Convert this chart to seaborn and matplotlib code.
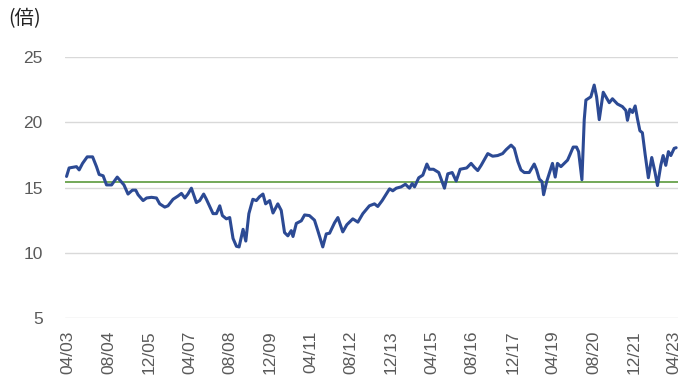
import matplotlib
matplotlib.use("Agg")
import matplotlib.pyplot as plt
import matplotlib.dates as mdates
import numpy as np
import pandas as pd
import seaborn as sns

dates = [
    "2003-03-12", "2003-04-12", "2003-07-10", "2003-08-11", "2003-09-21", "2003-11-16",
    "2004-01-20", "2004-03-07", "2004-04-08", "2004-05-26", "2004-07-06", "2004-09-05",
    "2004-11-12", "2004-12-22", "2005-02-01", "2005-03-22", "2005-05-14", "2005-06-23",
    "2005-07-21", "2005-09-20", "2005-11-01", "2005-12-30", "2006-02-28", "2006-04-08",
    "2006-06-08", "2006-07-17", "2006-09-16", "2006-11-15", "2006-12-26", "2007-02-05",
    "2007-03-14", "2007-04-25", "2007-06-24", "2007-08-03", "2007-09-20", "2007-10-23",
    "2007-12-02", "2008-01-11", "2008-02-21", "2008-04-01", "2008-05-03", "2008-06-20",
    "2008-07-30", "2008-09-08", "2008-10-19", "2008-11-20", "2009-01-07", "2009-02-09",
    "2009-03-18", "2009-05-05", "2009-06-16", "2009-07-25", "2009-09-04", "2009-10-06",
    "2009-11-24", "2010-01-03", "2010-03-02", "2010-04-12", "2010-05-22", "2010-07-01",
    "2010-08-11", "2010-09-01", "2010-10-11", "2010-12-10", "2011-01-19", "2011-03-18",
    "2011-05-18", "2011-06-27", "2011-08-26", "2011-10-07", "2011-11-16", "2012-01-15",
    "2012-02-24", "2012-04-23", "2012-06-11", "2012-08-22", "2012-10-22", "2012-12-21",
    "2013-03-10", "2013-05-10", "2013-06-19", "2013-08-11", "2013-09-29", "2013-11-08",
    "2013-12-17", "2014-01-28", "2014-03-27", "2014-05-18", "2014-07-06", "2014-08-08",
    "2014-09-05", "2014-10-26", "2014-12-14", "2015-02-01", "2015-03-03", "2015-04-21",
    "2015-06-24", "2015-09-01", "2015-10-11", "2015-12-03", "2016-01-20", "2016-03-08",
    "2016-05-26", "2016-07-18", "2016-08-27", "2016-10-06", "2016-11-16", "2017-02-04",
    "2017-04-04", "2017-06-03", "2017-08-02", "2017-09-13", "2017-11-12", "2017-12-21",
    "2018-02-01", "2018-03-11", "2018-04-20", "2018-06-19", "2018-08-18", "2018-09-16",
    "2018-10-18", "2018-11-20", "2018-12-09", "2019-01-15", "2019-02-17", "2019-03-26",
    "2019-04-28", "2019-05-25", "2019-07-06", "2019-08-15", "2019-09-24", "2019-10-22",
    "2019-12-01", "2020-01-10", "2020-02-04", "2020-03-15", "2020-04-12", "2020-05-02",
    "2020-07-01", "2020-08-10", "2020-09-08", "2020-10-10", "2020-11-27", "2020-12-29",
    "2021-02-08", "2021-03-18", "2021-05-17", "2021-07-16", "2021-08-27", "2021-09-15",
    "2021-10-14", "2021-11-15", "2021-12-17", "2022-01-14", "2022-02-12", "2022-03-14",
    "2022-04-16", "2022-05-25", "2022-07-05", "2022-08-14", "2022-09-12", "2022-10-22",
    "2022-11-19", "2022-12-21", "2023-01-22", "2023-02-20", "2023-04-01", "2023-04-25",
]
pe_values = [
    15.85, 16.5, 16.6, 16.35, 16.85, 17.35,
    17.35, 16.6, 16.0, 15.9, 15.2, 15.2,
    15.8, 15.5, 15.2, 14.5, 14.8, 14.8,
    14.45, 14.0, 14.2, 14.25, 14.2, 13.75,
    13.5, 13.6, 14.1, 14.35, 14.55, 14.2,
    14.5, 14.95, 13.85, 14.0, 14.5, 14.1,
    13.55, 13.0, 13.0, 13.6, 12.85, 12.6,
    12.7, 11.1, 10.5, 10.45, 11.8, 10.9,
    13.0, 14.1, 14.0, 14.3, 14.5, 13.75,
    14.0, 13.05, 13.75, 13.25, 11.55, 11.3,
    11.7, 11.25, 12.25, 12.45, 12.9, 12.85,
    12.5, 11.7, 10.45, 11.45, 11.5, 12.3,
    12.7, 11.6, 12.15, 12.6, 12.35, 13.0,
    13.6, 13.75, 13.55, 14.0, 14.5, 14.9,
    14.75, 14.95, 15.05, 15.25, 14.95, 15.3,
    15.05, 15.75, 15.95, 16.8, 16.4, 16.4,
    16.15, 14.95, 16.05, 16.15, 15.5, 16.4,
    16.5, 16.85, 16.55, 16.3, 16.7, 17.6,
    17.4, 17.45, 17.6, 17.9, 18.25, 18.0,
    17.0, 16.35, 16.15, 16.15, 16.8, 16.35,
    15.65, 15.45, 14.45, 15.45, 16.1, 16.85,
    15.8, 16.85, 16.6, 16.85, 17.1, 17.5,
    18.1, 18.1, 17.75, 15.6, 20.2, 21.7,
    21.95, 22.85, 21.95, 20.2, 22.3, 21.95,
    21.5, 21.8, 21.4, 21.2, 20.9, 20.15,
    21.0, 20.75, 21.25, 20.25, 19.35, 19.2,
    17.55, 15.75, 17.3, 16.15, 15.15, 16.7,
    17.45, 16.7, 17.75, 17.45, 18.0, 18.05,
]
average_pe = 15.45
y_ticks = [5, 10, 15, 20, 25]
x_tick_dates = pd.date_range("2003-04-01", "2023-04-01", freq="16MS")
unit_label = "(倍)"

df = pd.DataFrame({"date": pd.to_datetime(dates), "pe": pe_values})

sns.set_theme(style="white")
plt.rcParams["font.family"] = ["Liberation Sans", "Noto Sans CJK JP", "DejaVu Sans"]

fig = plt.figure(figsize=(6.83, 3.80), dpi=100)
ax = fig.add_axes([0.095, 0.163, 0.898, 0.687])

ax.axhline(average_pe, color="#5b9a3c", linewidth=1.2, zorder=3)
sns.lineplot(data=df, x="date", y="pe", ax=ax, color="#2c4a94", linewidth=2.2, zorder=4)

ax.set_ylim(5, 25)
ax.set_yticks(y_ticks)
ax.set_xlim(pd.Timestamp("2003-02-20"), pd.Timestamp("2023-05-20"))
ax.set_xticks(x_tick_dates)
ax.set_xticklabels([d.strftime("%m/%y") for d in x_tick_dates], rotation=90)
ax.set_xlabel("")
ax.set_ylabel("")

ax.yaxis.grid(True, color="#d9d9d9", linewidth=1.0)
ax.xaxis.grid(False)
for s in ax.spines.values():
    s.set_visible(False)
ax.tick_params(axis="y", length=0, pad=16, labelsize=12.5, labelcolor="#5a5a5a")
ax.tick_params(axis="x", length=0, pad=9, labelsize=12.5, labelcolor="#5a5a5a")

fig.text(0.012, 0.952, unit_label, fontsize=14, color="#222222",
         family=["Noto Sans CJK JP", "DejaVu Sans"], va="center", ha="left")

fig.savefig("out.png", dpi=100)
